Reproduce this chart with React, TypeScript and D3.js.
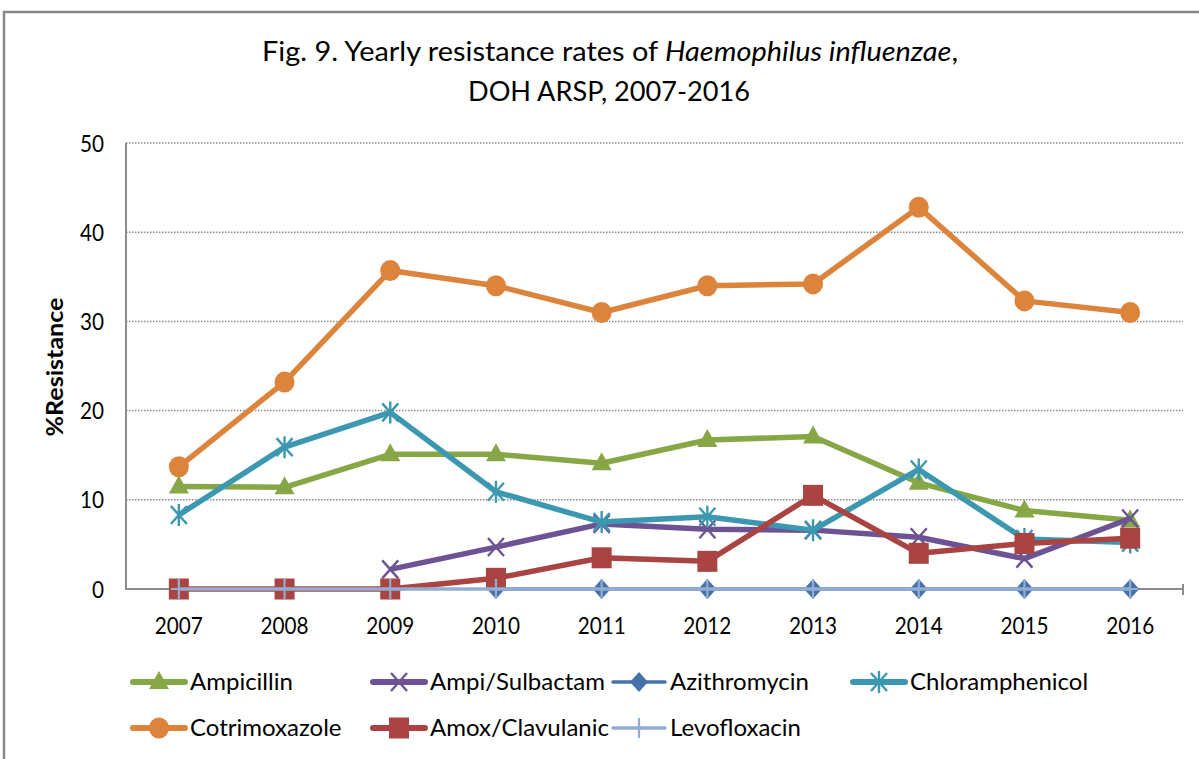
import React from "react";
import * as d3 from "d3";

const years = ["2007", "2008", "2009", "2010", "2011", "2012", "2013", "2014", "2015", "2016"];
const yTicks = [0, 10, 20, 30, 40, 50];

const ampicillin = [11.5, 11.4, 15.1, 15.1, 14.1, 16.7, 17.1, 11.9, 8.8, 7.7];
const ampiSulbactam = [null, null, 2.2, 4.7, 7.3, 6.7, 6.6, 5.8, 3.4, 7.9];
const azithromycin = [null, null, null, 0, 0, 0, 0, 0, 0, 0];
const chloramphenicol = [8.3, 15.9, 19.8, 10.9, 7.5, 8.1, 6.6, 13.4, 5.6, 5.2];
const cotrimoxazole = [13.7, 23.2, 35.7, 34.0, 31.0, 34.0, 34.2, 42.8, 32.3, 31.0];
const amoxClavulanic = [0, 0, 0, 1.2, 3.5, 3.1, 10.5, 4.0, 5.1, 5.7];
const levofloxacin = [0, 0, 0, 0, 0, 0, 0, 0, 0, 0];

const seriesNames = ["Ampicillin", "Ampi/Sulbactam", "Azithromycin", "Chloramphenicol", "Cotrimoxazole", "Amox/Clavulanic", "Levofloxacin"];

type Marker = "triangle" | "x" | "diamond" | "star" | "circle" | "square" | "plus";

const series: { name: string; values: (number | null)[]; color: string; marker: Marker; width: number }[] = [
  { name: seriesNames[0], values: ampicillin, color: "#87a746", marker: "triangle", width: 5.5 },
  { name: seriesNames[1], values: ampiSulbactam, color: "#6e5394", marker: "x", width: 5.5 },
  { name: seriesNames[2], values: azithromycin, color: "#4573a9", marker: "diamond", width: 3.5 },
  { name: seriesNames[3], values: chloramphenicol, color: "#3c98b0", marker: "star", width: 5.5 },
  { name: seriesNames[4], values: cotrimoxazole, color: "#dc843b", marker: "circle", width: 5.5 },
  { name: seriesNames[5], values: amoxClavulanic, color: "#a94442", marker: "square", width: 5.5 },
  { name: seriesNames[6], values: levofloxacin, color: "#93acd2", marker: "plus", width: 3.5 },
];

const FONT = "Lato, 'Liberation Sans', sans-serif";

function MarkerShape({ type, x, y, color }: { type: Marker; x: number; y: number; color: string }) {
  switch (type) {
    case "triangle":
      return <path d={`M${x},${y - 11}L${x + 10},${y + 7}L${x - 10},${y + 7}Z`} fill={color} />;
    case "x":
      return (
        <path d={`M${x - 8},${y - 9}L${x + 8},${y + 9}M${x - 8},${y + 9}L${x + 8},${y - 9}`} stroke={color} strokeWidth={2.4} fill="none" />
      );
    case "diamond":
      return <path d={`M${x},${y - 10}L${x + 9},${y}L${x},${y + 10}L${x - 9},${y}Z`} fill={color} />;
    case "star":
      return (
        <path
          d={`M${x - 8},${y - 9}L${x + 8},${y + 9}M${x - 8},${y + 9}L${x + 8},${y - 9}M${x},${y - 11}L${x},${y + 11}`}
          stroke={color}
          strokeWidth={2.4}
          fill="none"
        />
      );
    case "circle":
      return <ellipse cx={x} cy={y} rx={10} ry={10.5} fill={color} />;
    case "square":
      return <rect x={x - 10} y={y - 10.5} width={20} height={21} fill={color} />;
    case "plus":
      return <path d={`M${x - 8},${y}L${x + 8},${y}M${x},${y - 10}L${x},${y + 10}`} stroke={color} strokeWidth={2.2} fill="none" />;
  }
  return null;
}

export default function App() {
  const W = 1199;
  const H = 759;
  const left = 126;
  const right = 1183;
  const top = 143;
  const bottom = 589;

  const x = d3.scaleBand<string>().domain(years).range([left, right]).padding(0);
  const cx = (yr: string) => (x(yr) ?? 0) + x.bandwidth() / 2;
  const y = d3.scaleLinear().domain([0, 50]).range([bottom, top]);

  const lineGen = d3
    .line<number | null>()
    .defined((d) => d !== null)
    .x((_, i) => cx(years[i]))
    .y((d) => y(d as number));

  const gridColor = "#8c8c8c";
  const legendCols = 4;
  const legendX0 = 133;
  const legendColW = 240;
  const legendY0 = 682;
  const legendRowH = 46;
  const tickFont = 23;
  const tickSx = 0.9;

  return (
    <svg width={W} height={H} style={{ position: "absolute", left: 0, top: 0, background: "#fff" }}>
      <rect x={0} y={0} width={W} height={H} fill="#fff" />
      {/* chart frame */}
      <path d={`M4,${H + 5}L4,12L${W + 5},12`} stroke="#878787" strokeWidth={2.5} fill="none" />

      {/* title */}
      <text x={610} y={61} textAnchor="middle" fontFamily={FONT} fontSize={27} fill="#000" textLength={696} lengthAdjust="spacingAndGlyphs">
        Fig. 9. Yearly resistance rates of <tspan fontStyle="italic">Haemophilus influenzae</tspan>,
      </text>
      <text x={609} y={101} textAnchor="middle" fontFamily={FONT} fontSize={27} fill="#000" textLength={282} lengthAdjust="spacingAndGlyphs">
        DOH ARSP, 2007-2016
      </text>

      {/* gridlines */}
      {yTicks
        .filter((t) => t > 0)
        .map((t) => (
          <line key={t} x1={left} x2={right} y1={y(t)} y2={y(t)} stroke={gridColor} strokeWidth={1.5} strokeDasharray="1.5 1.5" />
        ))}

      {/* axes */}
      <line x1={left} x2={left} y1={top} y2={bottom} stroke={gridColor} strokeWidth={2} />
      <line x1={left - 1} x2={right} y1={bottom} y2={bottom} stroke={gridColor} strokeWidth={2} />
      <line x1={right} x2={right} y1={bottom - 5} y2={bottom + 6} stroke={gridColor} strokeWidth={2} />

      {/* y tick labels */}
      {yTicks.map((t) => (
        <text
          key={t}
          transform={`translate(104,${y(t) + 8.5}) scale(${tickSx},1)`}
          textAnchor="end"
          fontFamily={FONT}
          fontSize={tickFont}
          fill="#000"
        >
          {t}
        </text>
      ))}
      {/* x tick labels */}
      {years.map((yr) => (
        <text
          key={yr}
          transform={`translate(${cx(yr)},634) scale(${tickSx},1)`}
          textAnchor="middle"
          fontFamily={FONT}
          fontSize={tickFont}
          fill="#000"
        >
          {yr}
        </text>
      ))}

      {/* y axis title */}
      <text
        transform={`translate(63,367) rotate(-90)`}
        textAnchor="middle"
        fontFamily={FONT}
        fontWeight="bold"
        fontSize={23}
        fill="#000"
        textLength={139}
        lengthAdjust="spacingAndGlyphs"
      >
        %Resistance
      </text>

      {/* series */}
      {series.map((s) => (
        <g key={s.name}>
          <path d={lineGen(s.values) ?? ""} stroke={s.color} strokeWidth={s.width} fill="none" strokeLinejoin="round" />
          {s.values.map((v, i) =>
            v === null ? null : <MarkerShape key={i} type={s.marker} x={cx(years[i])} y={y(v)} color={s.color} />
          )}
        </g>
      ))}

      {/* legend */}
      {series.map((s, i) => {
        const col = i % legendCols;
        const row = Math.floor(i / legendCols);
        const lx = legendX0 + col * legendColW;
        const ly = legendY0 + row * legendRowH;
        return (
          <g key={s.name}>
            <line x1={lx} x2={lx + 52} y1={ly} y2={ly} stroke={s.color} strokeWidth={s.width < 4 ? 3.5 : 6} strokeLinecap="round" />
            <MarkerShape type={s.marker} x={lx + 26} y={ly} color={s.color} />
            <text x={lx + 57} y={ly + 8} fontFamily={FONT} fontSize={24} fill="#000">
              {s.name}
            </text>
          </g>
        );
      })}
    </svg>
  );
}
